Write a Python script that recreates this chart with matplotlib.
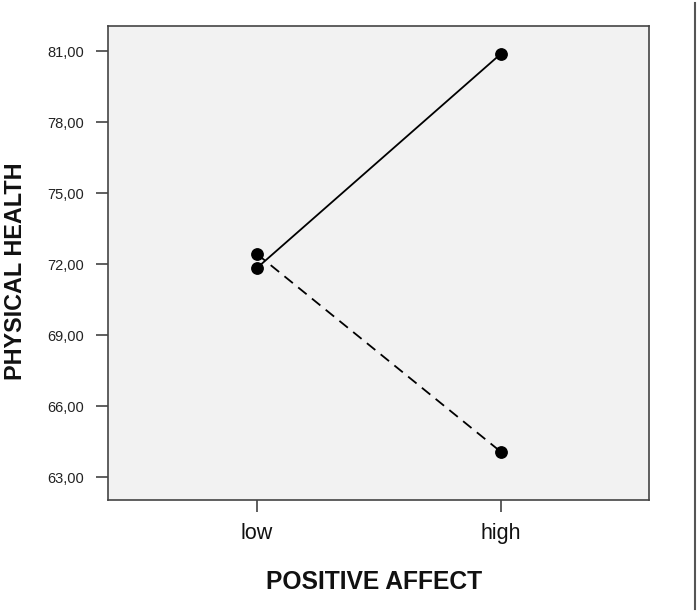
import matplotlib
matplotlib.use("Agg")
import matplotlib.pyplot as plt
from matplotlib.lines import Line2D

plt.rcParams['font.family'] = ['Liberation Sans', 'DejaVu Sans']

categories = ["low", "high"]
solid_values = [71.84, 80.89]
dashed_values = [72.43, 64.07]
y_ticks = [63, 66, 69, 72, 75, 78, 81]
y_tick_labels = ["63,00", "66,00", "69,00", "72,00", "75,00", "78,00", "81,00"]

fig = plt.figure(figsize=(7.0, 6.15), dpi=100)
ax = fig.add_axes([108/700, 1 - 500/615, 541/700, 474/615])
ax.set_facecolor("#F2F2F2")

x = list(range(len(categories)))
ax.plot(x, solid_values, color="black", lw=1.3, marker="o", ms=8.2,
        solid_capstyle="butt", zorder=3)
ax.plot(x, dashed_values, color="black", lw=1.3, marker="o", ms=8.2,
        linestyle=(0, (6.0, 3.8)), zorder=3)

ax.set_xlim(-0.611, 1.608)
ax.set_ylim(62.03, 82.07)
ax.set_xticks(x)
ax.set_xticklabels(categories, fontsize=15.5, color="#111111")
ax.set_yticks(y_ticks)
ax.set_yticklabels(y_tick_labels, fontsize=10.5, color="#222222")

ax.tick_params(axis="both", direction="out", length=8.5, width=1.1, color="#333333")
ax.tick_params(axis="y", pad=9)
ax.tick_params(axis="x", pad=8)

for sp in ax.spines.values():
    sp.set_color("#444444")
    sp.set_linewidth(1.2)

ax.set_xlabel("POSITIVE AFFECT", fontsize=17.7, fontweight="bold", color="#111111")
ax.xaxis.set_label_coords((374.5 - 108) / 541, (500 - 582) / 474)
ax.xaxis.label.set_va("center")
ax.set_ylabel("PHYSICAL HEALTH", fontsize=16.8, fontweight="bold", color="#111111")
ax.yaxis.set_label_coords((16 - 108) / 541, (500 - 271) / 474)
ax.yaxis.label.set_va("center")

fig.add_artist(Line2D([695/700, 695/700], [1 - 3/615, 1 - 609/615],
                      transform=fig.transFigure, color="#555555", lw=1.5))

fig.savefig("out.png", dpi=100)
